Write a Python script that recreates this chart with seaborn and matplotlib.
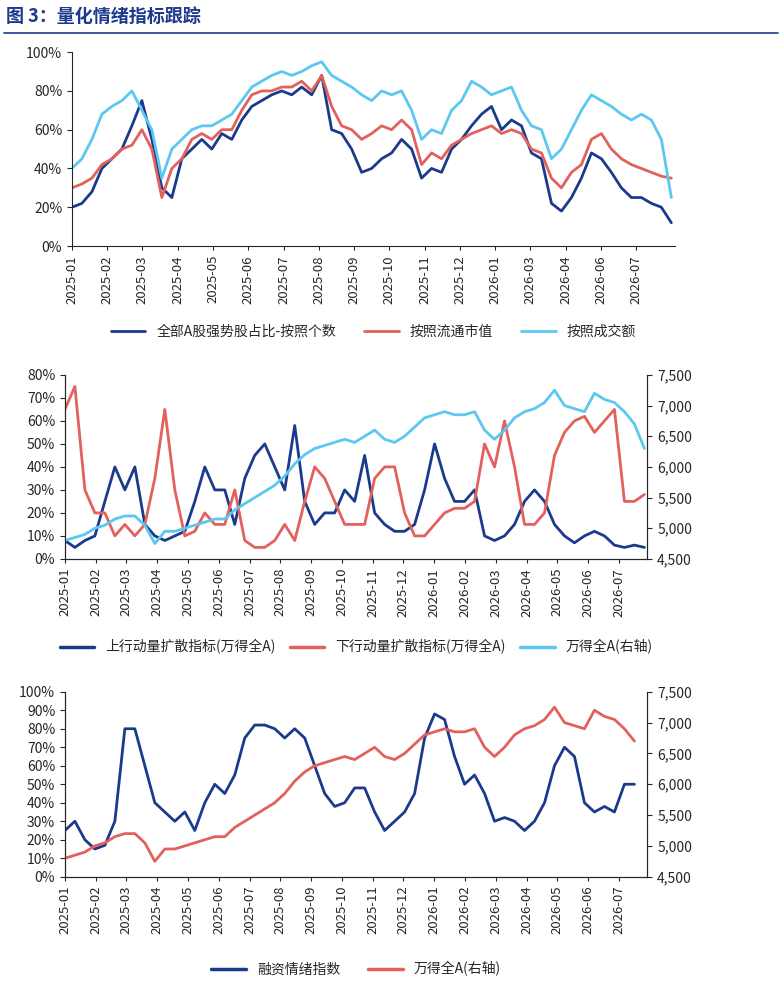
import numpy as np
import matplotlib.pyplot as plt
import seaborn as sns

sns.set_style("ticks")
plt.rcParams['font.family'] = ['Noto Sans CJK SC', 'DejaVu Sans']
plt.rcParams['axes.unicode_minus'] = False

DARK = "#1c3a8c"
RED = "#e3615c"
LIGHT = "#5cc8f2"

# --- panel 1: strong-stock share (%), sampled roughly every 2 weeks ---
top_labels = ['2025-01', '2025-02', '2025-03', '2025-04', '2025-05', '2025-06', '2025-07', '2025-08',
              '2025-09', '2025-10', '2025-11', '2025-12', '2026-01', '2026-03', '2026-04', '2026-06', '2026-07']
strong_count = [20, 22, 28, 40, 45, 50, 62, 75, 55, 30, 25, 45, 50, 55, 50, 58, 55, 65, 72, 75, 78, 80, 78, 82,
                78, 88, 60, 58, 50, 38, 40, 45, 48, 55, 50, 35, 40, 38, 50, 55, 62, 68, 72, 60, 65, 62, 48, 45,
                22, 18, 25, 35, 48, 45, 38, 30, 25, 25, 22, 20, 12]
strong_mcap = [30, 32, 35, 42, 45, 50, 52, 60, 50, 25, 40, 45, 55, 58, 55, 60, 60, 70, 78, 80, 80, 82, 82, 85,
               80, 88, 72, 62, 60, 55, 58, 62, 60, 65, 60, 42, 48, 45, 52, 55, 58, 60, 62, 58, 60, 58, 50, 48,
               35, 30, 38, 42, 55, 58, 50, 45, 42, 40, 38, 36, 35]
strong_turnover = [40, 45, 55, 68, 72, 75, 80, 70, 60, 35, 50, 55, 60, 62, 62, 65, 68, 75, 82, 85, 88, 90, 88, 90,
                   93, 95, 88, 85, 82, 78, 75, 80, 78, 80, 70, 55, 60, 58, 70, 75, 85, 82, 78, 80, 82, 70, 62, 60,
                   45, 50, 60, 70, 78, 75, 72, 68, 65, 68, 65, 55, 25]

# --- panel 2: momentum diffusion (%) and Wind All A (index) ---
mid_labels = ['2025-%02d' % m for m in range(1, 13)] + ['2026-%02d' % m for m in range(1, 8)]
up_diff = [8, 5, 8, 10, 25, 40, 30, 40, 15, 10, 8, 10, 12, 25, 40, 30, 30, 15, 35, 45, 50, 40, 30, 58, 25, 15, 20,
           20, 30, 25, 45, 20, 15, 12, 12, 15, 30, 50, 35, 25, 25, 30, 10, 8, 10, 15, 25, 30, 25, 15, 10, 7, 10, 12,
           10, 6, 5, 6, 5]
down_diff = [65, 75, 30, 20, 20, 10, 15, 10, 15, 35, 65, 30, 10, 12, 20, 15, 15, 30, 8, 5, 5, 8, 15, 8, 25, 40, 35,
             25, 15, 15, 15, 35, 40, 40, 20, 10, 10, 15, 20, 22, 22, 25, 50, 40, 60, 40, 15, 15, 20, 45, 55, 60, 62,
             55, 60, 65, 25, 25, 28]
wind_a = [4800, 4850, 4900, 5000, 5050, 5150, 5200, 5200, 5050, 4750, 4950, 4950, 5000, 5050, 5100, 5150, 5150, 5300,
          5400, 5500, 5600, 5700, 5850, 6050, 6200, 6300, 6350, 6400, 6450, 6400, 6500, 6600, 6450, 6400, 6500, 6650,
          6800, 6850, 6900, 6850, 6850, 6900, 6600, 6450, 6600, 6800, 6900, 6950, 7050, 7250, 7000, 6950, 6900, 7200,
          7100, 7050, 6900, 6700, 6300]

# --- panel 3: margin sentiment (%) ---
margin_sent = [25, 30, 20, 15, 17, 30, 80, 80, 60, 40, 35, 30, 35, 25, 40, 50, 45, 55, 75, 82, 82, 80, 75, 80, 75,
               60, 45, 38, 40, 48, 48, 35, 25, 30, 35, 45, 75, 88, 85, 65, 50, 55, 45, 30, 32, 30, 25, 30, 40, 60,
               70, 65, 40, 35, 38, 35, 50, 50]
wind_a_short = wind_a[:len(margin_sent)]

fig = plt.figure(figsize=(7.82, 9.84), dpi=100)
fig.text(0.008, 0.978, '图 3：量化情绪指标跟踪', fontsize=13, fontweight='bold', color='#1c3a8c')
fig.add_artist(plt.Line2D([0.005, 0.995], [0.966, 0.966], color='#1c3a8c', lw=1.2))


def xs(n, step):
    return np.arange(n) * step


def style_x(ax, labels, xmax):
    ax.set_xticks(range(len(labels)))
    ax.set_xticklabels(labels, rotation=90, fontsize=9.5)
    ax.set_xlim(0, xmax)
    ax.tick_params(axis='x', length=3)


# panel 1
ax1 = fig.add_axes([0.092, 0.75, 0.771, 0.197])
step1 = 10 / 35.3
for vals, c, lab in [(strong_count, DARK, '全部A股强势股占比-按照个数'),
                     (strong_mcap, RED, '按照流通市值'),
                     (strong_turnover, LIGHT, '按照成交额')]:
    sns.lineplot(x=xs(len(vals), step1), y=vals, ax=ax1, color=c, lw=2, label=lab)
style_x(ax1, top_labels, (len(strong_count) - 1) * step1 + 0.1)
ax1.set_ylim(0, 100)
ax1.set_yticks(range(0, 101, 20))
ax1.set_yticklabels(['%d%%' % v for v in range(0, 101, 20)], fontsize=10)
ax1.legend(loc='upper center', bbox_to_anchor=(0.5, -0.34), ncol=3, frameon=False, fontsize=10, handlelength=2.5)
sns.despine(ax=ax1)

# panel 2
ax2 = fig.add_axes([0.083, 0.432, 0.745, 0.187])
step2 = 10 / 30.8
x2 = xs(len(up_diff), step2)
sns.lineplot(x=x2, y=up_diff, ax=ax2, color=DARK, lw=2, legend=False)
sns.lineplot(x=x2, y=down_diff, ax=ax2, color=RED, lw=2, legend=False)
ax2r = ax2.twinx()
sns.lineplot(x=xs(len(wind_a), step2), y=wind_a, ax=ax2r, color=LIGHT, lw=2, legend=False)
style_x(ax2, mid_labels, (len(up_diff) - 1) * step2 + 0.1)
ax2.set_ylim(0, 80)
ax2.set_yticks(range(0, 81, 10))
ax2.set_yticklabels(['%d%%' % v for v in range(0, 81, 10)], fontsize=10)
ax2r.set_ylim(4500, 7500)
ax2r.set_yticks(range(4500, 7501, 500))
ax2r.set_yticklabels(['{:,}'.format(v) for v in range(4500, 7501, 500)], fontsize=10)
h = [plt.Line2D([], [], color=c, lw=2.5) for c in (DARK, RED, LIGHT)]
ax2.legend(h, ['上行动量扩散指标(万得全A)', '下行动量扩散指标(万得全A)', '万得全A(右轴)'],
           loc='upper center', bbox_to_anchor=(0.5, -0.37), ncol=3, frameon=False, fontsize=10,
           handlelength=2.5, columnspacing=1.0)
ax2.spines['top'].set_visible(False)
ax2r.spines['top'].set_visible(False)

# panel 3
ax3 = fig.add_axes([0.083, 0.109, 0.745, 0.188])
sns.lineplot(x=xs(len(margin_sent), step2), y=margin_sent, ax=ax3, color=DARK, lw=2, legend=False)
ax3r = ax3.twinx()
sns.lineplot(x=xs(len(wind_a_short), step2), y=wind_a_short, ax=ax3r, color=RED, lw=2, legend=False)
style_x(ax3, mid_labels, (len(wind_a) - 1) * step2 + 0.1)
ax3.set_ylim(0, 100)
ax3.set_yticks(range(0, 101, 10))
ax3.set_yticklabels(['%d%%' % v for v in range(0, 101, 10)], fontsize=10)
ax3r.set_ylim(4500, 7500)
ax3r.set_yticks(range(4500, 7501, 500))
ax3r.set_yticklabels(['{:,}'.format(v) for v in range(4500, 7501, 500)], fontsize=10)
h = [plt.Line2D([], [], color=c, lw=2.5) for c in (DARK, RED)]
ax3.legend(h, ['融资情绪指数', '万得全A(右轴)'], loc='upper center', bbox_to_anchor=(0.5, -0.39),
           ncol=2, frameon=False, fontsize=10, handlelength=2.5)
ax3.spines['top'].set_visible(False)
ax3r.spines['top'].set_visible(False)

fig.savefig('out.png', dpi=100)
